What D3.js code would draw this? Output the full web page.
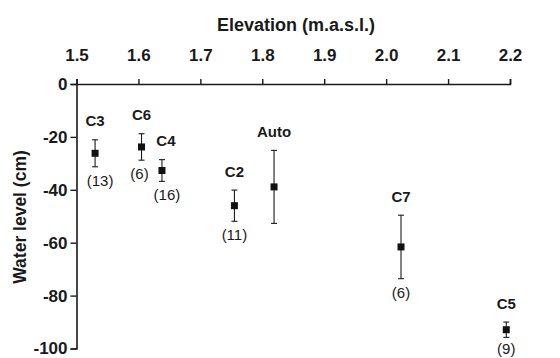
<!DOCTYPE html>
<html>
<head>
<meta charset="utf-8">
<script src="https://cdn.jsdelivr.net/npm/d3@7"></script>
<style>
  body { margin: 0; background: #fff; }
  text { font-family: "Liberation Sans", Arial, sans-serif; fill: #1a1a1a; }
</style>
</head>
<body>
<div id="chart"></div>
<script>
// sites
let sites = ["C3", "C6", "C4", "C2", "Auto", "C7", "C5"];
let elevation = [1.53, 1.605, 1.638, 1.755, 1.819, 2.024, 2.194];
let waterLevel = [-26.2, -23.8, -32.7, -46.0, -38.9, -61.6, -92.9];
let errorSize = [5.1, 5.0, 4.1, 5.9, 13.8, 12.0, 2.9];
let counts = ["(13)", "(6)", "(16)", "(11)", "", "(6)", "(9)"];
let xTicks = [1.5, 1.6, 1.7, 1.8, 1.9, 2.0, 2.1, 2.2];
let yTicks = [0, -20, -40, -60, -80, -100];

let svgWidth = 560;
let svgHeight = 358;
let margin = { top: 84, right: 50, bottom: 10, left: 76.5 };
let width = 510 - margin.left;
let height = 348.5 - margin.top;

let svg = d3.select("#chart")
  .append("svg")
  .attr("width", svgWidth)
  .attr("height", svgHeight);

let chartGroup = svg.append("g")
  .attr("transform", `translate(${margin.left}, ${margin.top})`);

let x = d3.scaleLinear().domain([1.5, 2.2]).range([0, width]);
let y = d3.scaleLinear().domain([0, -100]).range([0, height]);

// top axis
let topAxis = chartGroup.append("g")
  .call(d3.axisTop(x).tickValues(xTicks).tickFormat(d3.format(".1f")).tickSize(5).tickPadding(18));
topAxis.select(".domain").attr("stroke", "#1a1a1a").attr("stroke-width", 1.6);
topAxis.selectAll(".tick line").attr("stroke", "#1a1a1a").attr("stroke-width", 1.4);
topAxis.selectAll("text").attr("font-size", 17).attr("font-weight", "bold")
  .style("font-family", "Liberation Sans, Arial, sans-serif").attr("fill", "#1a1a1a");

// left axis (plain hyphen for negatives, like the original)
let leftAxis = chartGroup.append("g")
  .call(d3.axisLeft(y).tickValues(yTicks).tickFormat(d => String(d)).tickSize(6).tickPadding(3));
leftAxis.select(".domain").attr("stroke", "#1a1a1a").attr("stroke-width", 1.6);
leftAxis.selectAll(".tick line").attr("stroke", "#1a1a1a").attr("stroke-width", 1.4);
leftAxis.selectAll("text").attr("font-size", 17).attr("font-weight", "bold")
  .style("font-family", "Liberation Sans, Arial, sans-serif").attr("fill", "#1a1a1a");

// axis titles
svg.append("text")
  .attr("x", 296)
  .attr("y", 31)
  .attr("text-anchor", "middle")
  .attr("font-size", 18)
  .attr("font-weight", "bold")
  .text("Elevation (m.a.s.l.)");

svg.append("text")
  .attr("transform", "rotate(-90)")
  .attr("x", -217)
  .attr("y", 26)
  .attr("text-anchor", "middle")
  .attr("font-size", 17.5)
  .attr("font-weight", "bold")
  .text("Water level (cm)");

let points = sites.map((s, i) => ({
  site: s, x: elevation[i], y: waterLevel[i], e: errorSize[i], n: counts[i]
}));

// error bars
let bars = chartGroup.selectAll(".err")
  .data(points)
  .enter()
  .append("g")
  .attr("class", "err")
  .attr("stroke", "#1a1a1a")
  .attr("stroke-width", 1.1);

bars.append("line")
  .attr("x1", d => x(d.x)).attr("x2", d => x(d.x))
  .attr("y1", d => y(d.y + d.e)).attr("y2", d => y(d.y - d.e));
bars.append("line")
  .attr("x1", d => x(d.x) - 3).attr("x2", d => x(d.x) + 3)
  .attr("y1", d => y(d.y + d.e)).attr("y2", d => y(d.y + d.e));
bars.append("line")
  .attr("x1", d => x(d.x) - 3).attr("x2", d => x(d.x) + 3)
  .attr("y1", d => y(d.y - d.e)).attr("y2", d => y(d.y - d.e));

// square markers
chartGroup.selectAll(".pt")
  .data(points)
  .enter()
  .append("rect")
  .attr("class", "pt")
  .attr("x", d => x(d.x) - 3.5)
  .attr("y", d => y(d.y) - 3.5)
  .attr("width", 7)
  .attr("height", 7)
  .attr("fill", "#111");

// site names
chartGroup.selectAll(".name")
  .data(points)
  .enter()
  .append("text")
  .attr("class", "name")
  .attr("x", d => x(d.x) + (d.site === "C4" ? 4 : 0))
  .attr("y", d => y(d.y + d.e) - 13.5)
  .attr("text-anchor", "middle")
  .attr("font-size", 15)
  .attr("font-weight", "bold")
  .text(d => d.site);

// sample sizes
chartGroup.selectAll(".count")
  .data(points)
  .enter()
  .append("text")
  .attr("class", "count")
  .attr("x", d => x(d.x) + (d.site === "C3" || d.site === "C4" ? 5 : d.site === "C6" ? -2 : 0))
  .attr("y", d => Math.min(y(d.y - d.e) + 19, svgHeight - margin.top - 4.5))
  .attr("text-anchor", "middle")
  .attr("font-size", 15)
  .text(d => d.n);
</script>
</body>
</html>
